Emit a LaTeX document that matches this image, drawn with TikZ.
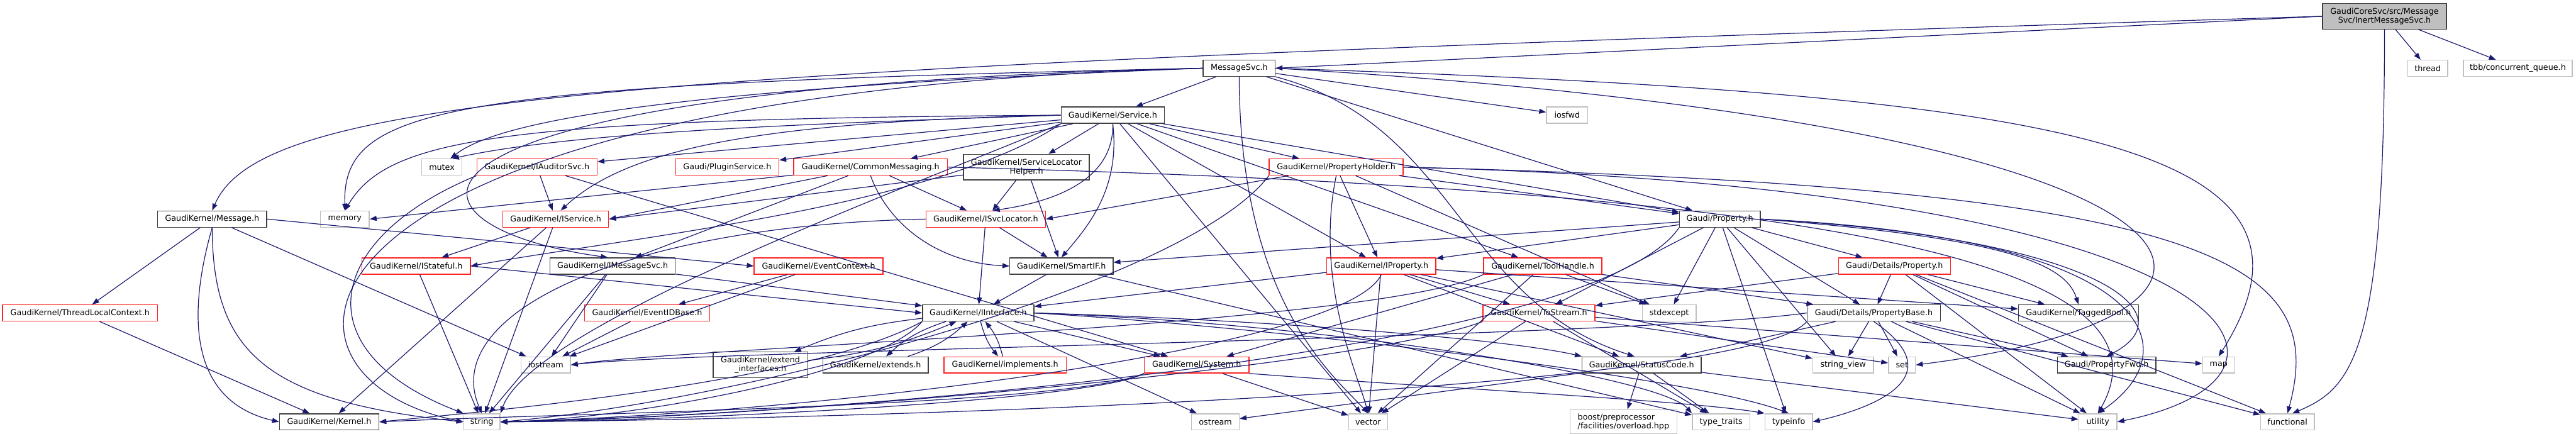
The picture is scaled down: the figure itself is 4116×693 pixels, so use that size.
\documentclass[tikz,border=0pt]{standalone}
\usepackage{fontspec}
\setmainfont{DejaVu Sans}
\usetikzlibrary{arrows.meta}
\definecolor{edgec}{HTML}{191970}
\definecolor{blkc}{HTML}{404040}
\definecolor{gryc}{HTML}{BFBFBF}
\definecolor{redc}{HTML}{FF2020}
\begin{document}
\begin{tikzpicture}[x=0.5pt,y=-0.5pt,
  base/.style={rectangle, font=\fontsize{6.4}{7}\selectfont, minimum height=13pt, inner sep=1pt, line width=0.7pt, text=black},
  wd/.style={minimum width=#1*0.5pt},
  blkbox/.style={base, draw=blkc},
  redbox/.style={base, draw=redc},
  grybox/.style={base, draw=gryc},
  rootbox/.style={base, draw=blkc, fill=gryc, align=center, minimum height=20.5pt},
  two/.style={minimum height=20.5pt, align=center},
  e/.style={draw=edgec, line width=0.6pt, -{Triangle[length=5.5pt,width=4pt]}}]
\useasboundingbox (0,0) rectangle (4116,693);
% row 0
\node[rootbox, wd=198] (root) at (3810,26) {GaudiCoreSvc/src/Message\\Svc/InertMessageSvc.h};
% row 1
\node[blkbox, wd=115] (msgsvc) at (1980,109) {MessageSvc.h};
\node[grybox, wd=64] (thread) at (3879,109) {thread};
\node[grybox, wd=174] (tbb) at (4023,109) {tbb/concurrent\_queue.h};
% row 2
\node[blkbox, wd=165] (service) at (1778,184) {GaudiKernel/Service.h};
\node[grybox, wd=66] (iosfwd) at (2504,184) {iosfwd};
% row 3
\node[grybox, wd=64] (mutex) at (706,267) {mutex};
\node[redbox, wd=192] (iaud) at (858,267) {GaudiKernel/IAuditorSvc.h};
\node[redbox, wd=165] (plugin) at (1162,267) {Gaudi/PluginService.h};
\node[redbox, wd=246] (commsg) at (1391,267) {GaudiKernel/CommonMessaging.h};
\node[blkbox, wd=201, two] (slh) at (1640,267) {GaudiKernel/ServiceLocator\\Helper.h};
\node[redbox, wd=214] (propholder) at (2135,267) {GaudiKernel/PropertyHolder.h};
% row 4
\node[blkbox, wd=174] (message) at (339,350) {GaudiKernel/Message.h};
\node[grybox, wd=78] (memory) at (551,350) {memory};
\node[redbox, wd=169] (iservice) at (888,350) {GaudiKernel/IService.h};
\node[redbox, wd=191] (isvcloc) at (1575,350) {GaudiKernel/ISvcLocator.h};
\node[blkbox, wd=129] (prop) at (2748,350) {Gaudi/Property.h};
% row 5
\node[redbox, wd=173] (istateful) at (665,425) {GaudiKernel/IStateful.h};
\node[blkbox, wd=200] (imsgsvc) at (979,425) {GaudiKernel/IMessageSvc.h};
\node[redbox, wd=206] (evctx) at (1308,425) {GaudiKernel/EventContext.h};
\node[blkbox, wd=165] (smartif) at (1696,425) {GaudiKernel/SmartIF.h};
\node[redbox, wd=174] (iprop) at (2207,425) {GaudiKernel/IProperty.h};
\node[redbox, wd=189] (toolh) at (2465,425) {GaudiKernel/ToolHandle.h};
\node[redbox, wd=179] (detprop) at (3027,425) {Gaudi/Details/Property.h};
% row 6
\node[redbox, wd=248] (tlc) at (128,500) {GaudiKernel/ThreadLocalContext.h};
\node[redbox, wd=200] (evid) at (1034,500) {GaudiKernel/EventIDBase.h};
\node[blkbox, wd=178] (iint) at (1563,500) {GaudiKernel/IInterface.h};
\node[redbox, wd=179] (tostream) at (2459,500) {GaudiKernel/ToStream.h};
\node[grybox, wd=86] (stdexc) at (2667,500) {stdexcept};
\node[blkbox, wd=213] (propbase) at (2994,500) {Gaudi/Details/PropertyBase.h};
\node[blkbox, wd=192] (tagbool) at (3321,500) {GaudiKernel/TaggedBool.h};
% row 7
\node[grybox, wd=79] (iostream) at (872,583) {iostream};
\node[blkbox, wd=151, two] (extint) at (1215,583) {GaudiKernel/extend\\\_interfaces.h};
\node[blkbox, wd=168] (extends) at (1399,583) {GaudiKernel/extends.h};
\node[redbox, wd=195] (implements) at (1606,583) {GaudiKernel/implements.h};
\node[redbox, wd=167] (system) at (1912,583) {GaudiKernel/System.h};
\node[blkbox, wd=190] (statuscode) at (2623,583) {GaudiKernel/StatusCode.h};
\node[grybox, wd=97] (strview) at (2945,583) {string\_view};
\node[grybox, wd=43] (nset) at (3039,583) {set};
\node[blkbox, wd=157] (propfwd) at (3366,583) {Gaudi/PropertyFwd.h};
\node[grybox, wd=51] (nmap) at (3545,583) {map};
% row 8
\node[blkbox, wd=159] (kernel) at (526,674) {GaudiKernel/Kernel.h};
\node[grybox, wd=58] (nstring) at (770,674) {string};
\node[grybox, wd=76] (ostream) at (1942,674) {ostream};
\node[grybox, wd=62] (nvector) at (2186,674) {vector};
\node[grybox, wd=171, minimum height=19.5pt, align=left] (boost) at (2594,674) {boost/preprocessor\\/facilities/overload.hpp};
\node[grybox, wd=92] (typetr) at (2750,674) {type\_traits};
\node[grybox, wd=76] (typeinfo) at (2858,674) {typeinfo};
\node[grybox, wd=61] (utility) at (3352,674) {utility};
\node[grybox, wd=86] (functional) at (3655,674) {functional};

% ---- edges: root
\draw[e] (root.west) -- (msgsvc.east);
\draw[e] (root.west) .. controls (1000,110) and (420,150) .. (message.north);
\draw[e] (root.south) .. controls (3810,560) and (3760,620) .. (functional.60);
\draw[e] (root) -- (thread);
\draw[e] (root) -- (tbb);
% MessageSvc.h
\draw[e] (msgsvc) -- (service);
\draw[e] (msgsvc) -- (iosfwd);
\draw[e] (msgsvc.east) .. controls (3300,150) and (3760,230) .. (nmap.north);
\draw[e] (msgsvc.east) .. controls (3600,200) and (3720,500) .. (nset.east);
\draw[e] (msgsvc) -- (prop);
\draw[e] (msgsvc.south east) .. controls (2330,200) and (2330,480) .. (statuscode.130);
\draw[e] (msgsvc.south) .. controls (1981,480) and (2130,600) .. (nvector.north);
\draw[e] (msgsvc.west) .. controls (700,135) and (548,170) .. (memory.north);
\draw[e] (msgsvc.west) .. controls (1100,140) and (800,190) .. (mutex.45);
\draw[e] (msgsvc.west) .. controls (420,150) and (380,600) .. (nstring.west);
\draw[e] (msgsvc.west) .. controls (560,140) and (600,360) .. (imsgsvc.120);
% Service.h
\draw[e] (service.west) .. controls (1200,200) and (900,215) .. (mutex.40);
\draw[e] (service) -- (iaud);
\draw[e] (service) -- (plugin);
\draw[e] (service) -- (commsg);
\draw[e] (service) -- (slh);
\draw[e] (service) -- (propholder);
\draw[e] (service.west) .. controls (1200,195) and (1000,240) .. (iservice.60);
\draw[e] (service.south) .. controls (1780,280) and (1700,320) .. (isvcloc.50);
\draw[e] (service.south) .. controls (1790,300) and (1740,360) .. (smartif.north);
\draw[e] (service.south west) .. controls (1500,330) and (1000,380) .. (istateful.east);
\draw[e] (service) -- (iprop);
\draw[e] (service) -- (toolh);
\draw[e] (service) -- (prop);
\draw[e] (service) -- (nvector);
\draw[e] (service.west) .. controls (800,190) and (620,220) .. (memory.north);
\draw[e] (service.south west) .. controls (1450,300) and (850,520) .. (nstring.north east);
% Message.h
\draw[e] (message) -- (tlc);
\draw[e] (message.south) .. controls (300,500) and (300,640) .. (kernel.west);
\draw[e] (message.south) .. controls (340,560) and (420,640) .. (nstring.west);
\draw[e] (message) -- (iostream);
\draw[e] (message.east) -- (evctx.west);
\draw[e] (tlc) -- (kernel);
\draw[e] (evctx) -- (evid);
\draw[e] (evctx) -- (iostream);
\draw[e] (evid) -- (iostream);
% IAuditorSvc.h
\draw[e] (iaud) -- (iservice);
\draw[e] (iaud) -- (system);
\draw[e] (iaud.south west) .. controls (520,380) and (480,560) .. (nstring.north west);
% CommonMessaging.h
\draw[e] (commsg) -- (iservice.east);
\draw[e] (commsg) -- (imsgsvc);
\draw[e] (commsg) -- (isvcloc);
\draw[e] (commsg.south) .. controls (1420,360) and (1500,420) .. (smartif.west);
\draw[e] (commsg) -- (memory.east);
\draw[e] (commsg.east) .. controls (2800,300) and (3500,400) .. (utility.north);
% ServiceLocatorHelper.h
\draw[e] (slh) -- (isvcloc);
\draw[e] (slh) -- (smartif);
\draw[e] (slh) -- (iservice.east);
% PropertyHolder.h
\draw[e] (propholder) -- (prop);
\draw[e] (propholder) -- (iprop);
\draw[e] (propholder) -- (isvcloc.east);
\draw[e] (propholder.south) .. controls (2100,450) and (2170,600) .. (nvector.north);
\draw[e] (propholder) -- (stdexc);
\draw[e] (propholder.east) .. controls (3550,300) and (3720,420) .. (functional.north);
\draw[e] (propholder.east) .. controls (3600,300) and (3750,600) .. (utility.east);
\draw[e] (propholder.south west) .. controls (1900,450) and (1200,640) .. (nstring.east);
% IService.h
\draw[e] (iservice) -- (istateful);
\draw[e] (iservice) -- (kernel);
\draw[e] (iservice) -- (nstring);
% IStateful.h
\draw[e] (istateful.east) -- (iint.west);
\draw[e] (istateful) -- (nstring);
% IMessageSvc.h
\draw[e] (imsgsvc) -- (iint);
\draw[e] (imsgsvc) -- (iostream);
\draw[e] (imsgsvc) -- (nstring);
% ISvcLocator.h
\draw[e] (isvcloc) -- (iint);
\draw[e] (isvcloc) -- (smartif);
\draw[e] (isvcloc.west) .. controls (1000,360) and (700,500) .. (nstring.north);
% SmartIF.h
\draw[e] (smartif) -- (iint);
\draw[e] (smartif) -- (typetr);
% IInterface.h
\draw[e] (iint) to[bend right=12] (extends);
\draw[e] (extends) to[bend right=12] (iint);
\draw[e] (iint) to[bend right=12] (implements);
\draw[e] (implements) to[bend right=12] (iint);
\draw[e] (iint) to[bend right=8] (extint);
\draw[e] (extint) to[bend right=8] (iint);
\draw[e] (iint) -- (system);
\draw[e] (iint) -- (ostream);
\draw[e] (iint.east) .. controls (2000,510) and (2400,540) .. (statuscode.north west);
\draw[e] (iint.south west) .. controls (1300,610) and (800,655) .. (kernel.east);
\draw[e] (iint.south west) .. controls (1400,600) and (1000,670) .. (nstring.east);
\draw[e] (iint.east) .. controls (2100,515) and (2650,600) .. (typetr.north west);
\draw[e] (iint.east) .. controls (2000,520) and (2700,600) .. (typeinfo.north);
% IProperty.h
\draw[e] (iprop) -- (iint);
\draw[e] (iprop) -- (tostream);
\draw[e] (iprop) -- (statuscode);
\draw[e] (iprop) -- (nvector);
\draw[e] (iprop.south) .. controls (2150,560) and (1300,660) .. (nstring.east);
\draw[e] (iprop) -- (strview);
\draw[e] (iprop) -- (tagbool);
% ToolHandle.h
\draw[e] (toolh) -- (propbase);
\draw[e] (toolh) -- (stdexc);
\draw[e] (toolh) -- (nvector);
\draw[e] (toolh.south west) .. controls (2200,520) and (1100,555) .. (iostream.east);
\draw[e] (toolh) -- (system);
% Gaudi/Property.h
\draw[e] (prop) -- (detprop);
\draw[e] (prop) -- (propbase);
\draw[e] (prop) -- (iprop);
\draw[e] (prop) -- (smartif);
\draw[e] (prop) -- (tostream);
\draw[e] (prop) -- (stdexc);
\draw[e] (prop) -- (strview);
\draw[e] (prop) -- (typeinfo);
\draw[e] (prop.east) .. controls (3200,380) and (3300,420) .. (tagbool.north);
\draw[e] (prop.east) .. controls (3350,380) and (3500,500) .. (propfwd.north);
\draw[e] (prop.east) .. controls (3450,380) and (3500,560) .. (utility.north);
\draw[e] (prop.south west) .. controls (2550,560) and (1400,660) .. (nstring.east);
% Gaudi/Details/Property.h
\draw[e] (detprop) -- (propbase);
\draw[e] (detprop) -- (tostream);
\draw[e] (detprop) -- (tagbool);
\draw[e] (detprop) -- (propfwd);
\draw[e] (detprop) -- (utility);
\draw[e] (detprop) -- (functional);
% Gaudi/Details/PropertyBase.h
\draw[e] (propbase) -- (strview);
\draw[e] (propbase) -- (nset);
\draw[e] (propbase) -- (statuscode);
\draw[e] (propbase.south) .. controls (3120,600) and (3000,650) .. (typeinfo.east);
\draw[e] (propbase) -- (propfwd);
\draw[e] (propbase) -- (utility);
\draw[e] (propbase) -- (functional);
\draw[e] (propbase.west) .. controls (2600,540) and (1100,560) .. (iostream.east);
\draw[e] (propbase.south west) .. controls (2800,620) and (1500,668) .. (nstring.east);
% ToStream.h
\draw[e] (tostream) -- (nvector);
\draw[e] (tostream) -- (nmap);
\draw[e] (tostream) -- (nset);
\draw[e] (tostream) -- (typetr);
\draw[e] (tostream.south west) .. controls (2200,580) and (1300,665) .. (nstring.east);
% System.h
\draw[e] (system.south west) .. controls (1700,650) and (900,660) .. (kernel.east);
\draw[e] (system) -- (nvector);
\draw[e] (system.south east) .. controls (2300,620) and (2700,640) .. (typeinfo.north west);
\draw[e] (system.south west) .. controls (1750,640) and (1100,672) .. (nstring.east);
% StatusCode.h
\draw[e] (statuscode) -- (ostream);
\draw[e] (statuscode) -- (boost);
\draw[e] (statuscode) -- (typetr);
\draw[e] (statuscode) -- (utility);
\end{tikzpicture}
\end{document}
